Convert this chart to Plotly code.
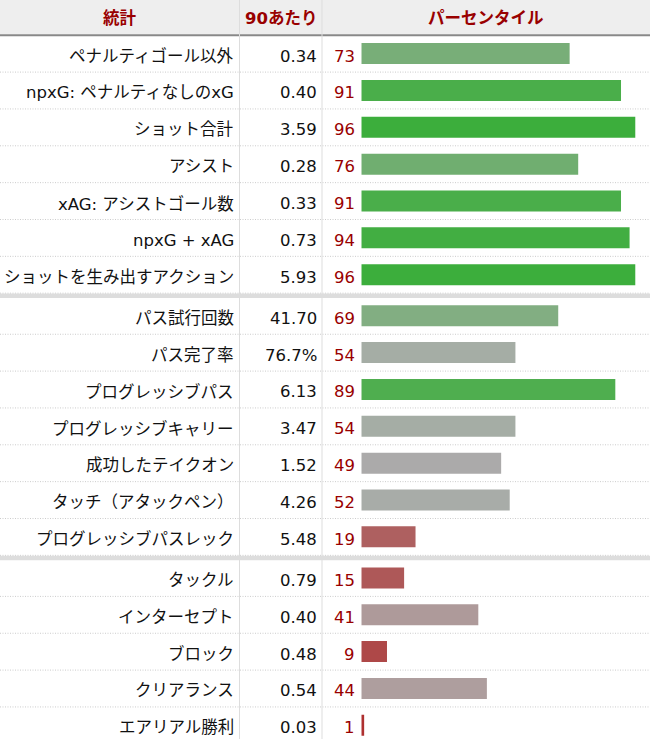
import plotly.graph_objects as go

# ---------------- data ----------------
stat_labels = [
    "ペナルティゴール以外", "npxG: ペナルティなしのxG", "ショット合計", "アシスト",
    "xAG: アシストゴール数", "npxG + xAG", "ショットを生み出すアクション",
    "パス試行回数", "パス完了率", "プログレッシブパス", "プログレッシブキャリー",
    "成功したテイクオン", "タッチ（アタックペン）", "プログレッシブパスレック",
    "タックル", "インターセプト", "ブロック", "クリアランス", "エアリアル勝利",
]
per90_values = [
    "0.34", "0.40", "3.59", "0.28", "0.33", "0.73", "5.93",
    "41.70", "76.7%", "6.13", "3.47", "1.52", "4.26", "5.48",
    "0.79", "0.40", "0.48", "0.54", "0.03",
]
percentiles = [73, 91, 96, 76, 91, 94, 96, 69, 54, 89, 54, 49, 52, 19, 15, 41, 9, 44, 1]
group_of_row = [0] * 7 + [1] * 7 + [2] * 5
header_labels = ["統計", "90あたり", "パーセンタイル"]

# ---------------- styles ----------------
bar_colors = [
    "#78ae78", "#4aae4a", "#3cae3c", "#70ae70", "#4aae4a", "#42ae42", "#3cae3c",
    "#82ae82", "#a5ada5", "#4fae4f", "#a5ada5", "#abaaaa", "#a8aca8", "#ae6060",
    "#ae5858", "#ae9a9a", "#ae4848", "#ae9e9e", "#ae3030",
]
W, H = 650, 739
FONT = "DejaVu Sans, Noto Sans CJK JP, sans-serif"
FS = 16.5
RED = "#990000"
C0, PITCH, GAP = 53.6, 36.85, 4.2
COL1, COL2 = 239.5, 322.0
BAR_X0, BAR_X1 = 361.3, 646.7

centers = [C0 + i * PITCH + g * GAP for i, g in enumerate(group_of_row)]

fig = go.Figure()
fig.add_trace(go.Bar(
    x=percentiles, y=centers, orientation="h", width=21,
    marker=dict(color=bar_colors, line=dict(width=0)),
    xaxis="x2", yaxis="y", hoverinfo="skip", showlegend=False,
))

shapes = []
# header background
shapes.append(dict(type="rect", xref="paper", yref="y", x0=0, x1=1, y0=0, y1=34.5,
                   fillcolor="#eeeeee", line=dict(width=0), layer="below"))
# dotted row separators
for c in centers:
    shapes.append(dict(type="line", xref="paper", yref="y", x0=0, x1=1, y0=c + 18.5, y1=c + 18.5,
                       line=dict(color="#cccccc", width=1, dash="1px,1.5px"), layer="below"))
# group separators
for i in range(len(centers) - 1):
    if group_of_row[i] != group_of_row[i + 1]:
        yy = (centers[i] + centers[i + 1]) / 2 + 0.5
        shapes.append(dict(type="line", xref="paper", yref="y", x0=0, x1=1, y0=yy, y1=yy,
                           line=dict(color="#dddddd", width=4.5), layer="below"))
# column separators
for xc in (COL1, COL2):
    shapes.append(dict(type="line", xref="x", yref="y", x0=xc, x1=xc, y0=0, y1=H,
                       line=dict(color="#dddddd", width=1), layer="below"))
# header bottom border
shapes.append(dict(type="line", xref="paper", yref="y", x0=0, x1=1, y0=35.2, y1=35.2,
                   line=dict(color="#888888", width=2), layer="below"))

annotations = []
header_x = [COL1 / 2, (COL1 + COL2) / 2, (COL2 + W) / 2]
for hx, ht in zip(header_x, header_labels):
    annotations.append(dict(x=hx, y=18.5, xref="x", yref="y", text="<b>" + ht + "</b>",
                            showarrow=False, xanchor="center", yanchor="middle",
                            font=dict(family=FONT, size=FS, color=RED)))
for c, lab, val, pct in zip(centers, stat_labels, per90_values, percentiles):
    ty = c + 2.5
    annotations.append(dict(x=234.5, y=ty, xref="x", yref="y", text=lab, showarrow=False,
                            xanchor="right", yanchor="middle", borderpad=0,
                            font=dict(family=FONT, size=FS, color="#111111")))
    annotations.append(dict(x=317.5, y=ty, xref="x", yref="y", text=val, showarrow=False,
                            xanchor="right", yanchor="middle", borderpad=0,
                            font=dict(family=FONT, size=FS, color="#111111")))
    annotations.append(dict(x=356, y=ty, xref="x", yref="y", text=str(pct), showarrow=False,
                            xanchor="right", yanchor="middle", borderpad=0,
                            font=dict(family=FONT, size=FS, color=RED)))

fig.update_layout(
    width=W, height=H, margin=dict(l=0, r=0, t=0, b=0, pad=0),
    paper_bgcolor="white", plot_bgcolor="rgba(0,0,0,0)",
    xaxis=dict(range=[0, W], domain=[0, 1], visible=False, fixedrange=True),
    xaxis2=dict(range=[0, 100], domain=[BAR_X0 / W, BAR_X1 / W], anchor="y",
                visible=False, fixedrange=True),
    yaxis=dict(range=[H, 0], domain=[0, 1], visible=False, fixedrange=True),
    shapes=shapes, annotations=annotations, showlegend=False,
)

fig.write_html("out.html", config={"displayModeBar": False, "staticPlot": True},
               post_script="document.body.style.margin='0';document.body.style.overflow='hidden';")
